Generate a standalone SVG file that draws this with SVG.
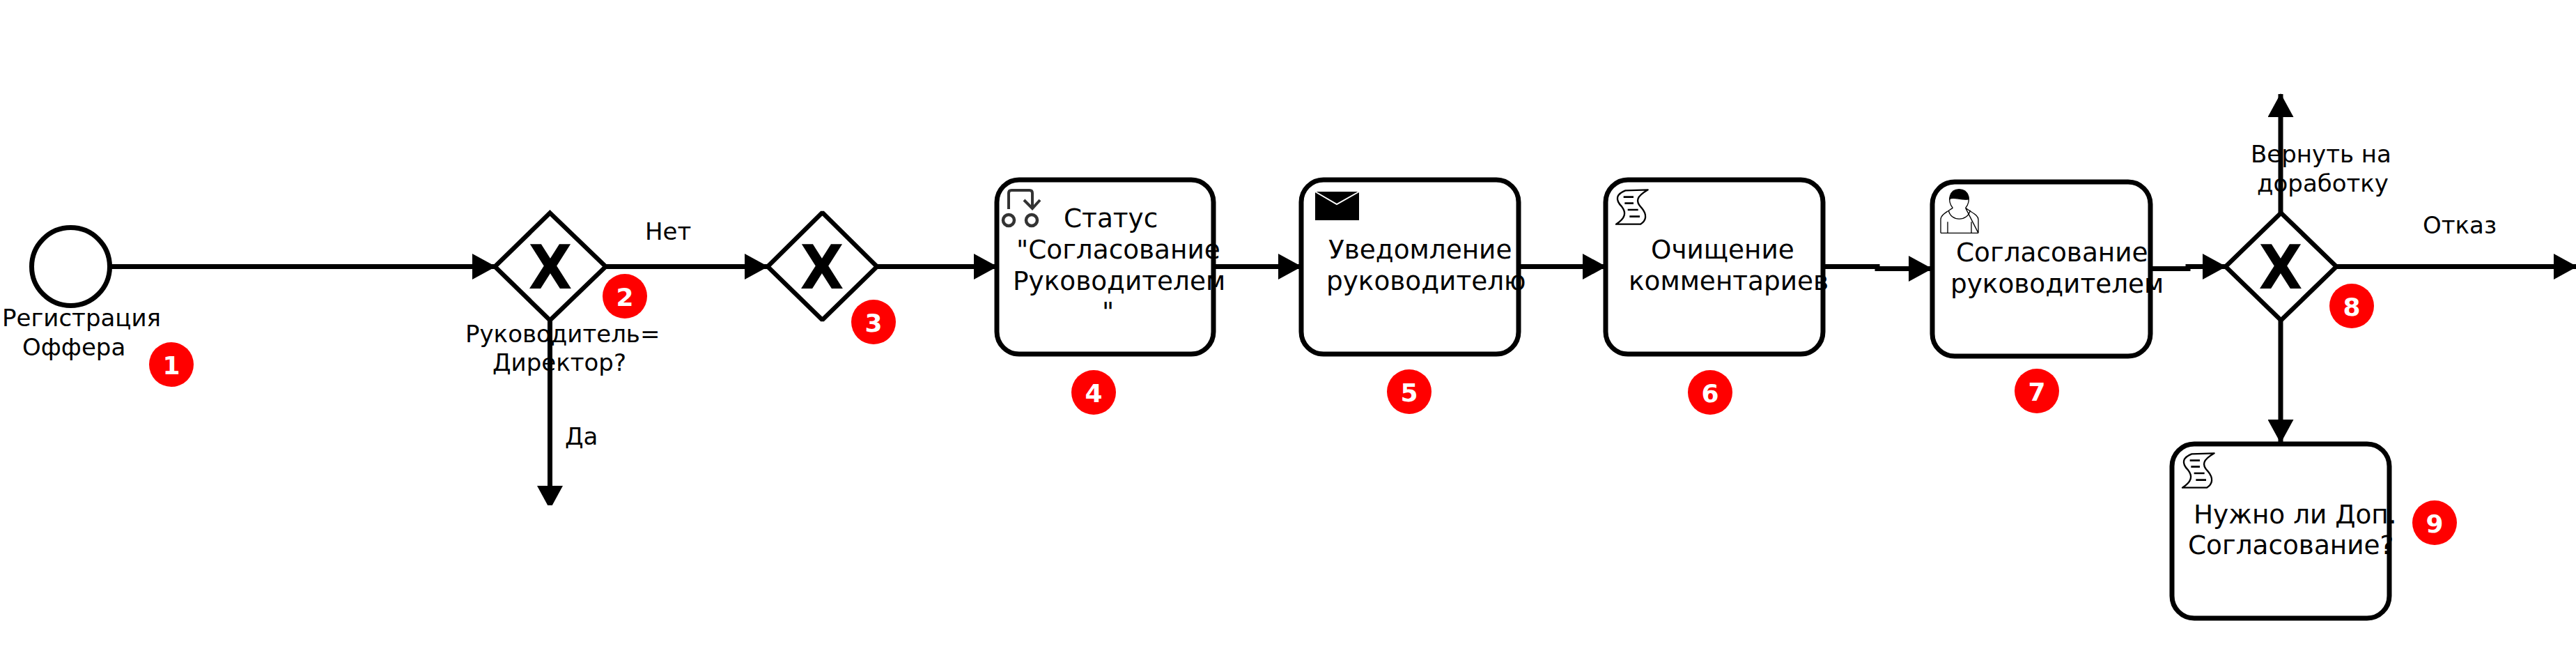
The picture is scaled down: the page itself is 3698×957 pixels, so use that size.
<svg xmlns="http://www.w3.org/2000/svg" xmlns:xlink="http://www.w3.org/1999/xlink" width="3698" height="957" viewBox="0 0 3698 957">
<style>
text{font-family:"DejaVu Sans",sans-serif;fill:#000}
.t{font-size:37.400px}
.l{font-size:34px}
.x{font-size:88px;font-weight:bold;text-anchor:middle}
.n{font-size:36px;font-weight:bold;fill:#fff;text-anchor:middle}
.task{fill:#fff;stroke:#000;stroke-width:7}
.gw{fill:#fff;stroke:#000;stroke-width:6.500}
.c{fill:none;stroke:#000;stroke-width:7;marker-end:url(#arrow)}
.b{fill:#f00}
.ic{fill:#fff;stroke:#000;stroke-width:7;stroke-linejoin:round}
</style>
<defs>
<marker id="arrow" markerUnits="userSpaceOnUse" markerWidth="34" markerHeight="37" viewBox="0 0 34 37" refX="33" refY="18.500" orient="auto"><path d="M0 0L34 18.500L0 37Z" fill="#000"/></marker>
<clipPath id="cut"><rect x="700" y="460" width="200" height="265"/></clipPath>
<g id="script"><path class="ic" d="M100 55L197 52C150 80 140 100 170 130C195 160 190 185 165 200L60 200C100 175 105 150 85 125C55 95 60 70 100 55Z" transform="scale(.3333)"/><path d="M92 83H135M97 110H135M110 138H155M118 167H162" transform="scale(.3333)" stroke="#000" stroke-width="8" fill="none"/></g>
</defs>
<rect width="3698" height="957" fill="#fff"/>
<g id="connectors">
<path class="c" d="M158 382.500H711"/>
<path class="c" d="M789.500 459V730" clip-path="url(#cut)"/>
<path class="c" d="M869 382.500H1102"/>
<path class="c" d="M1259 382.500H1431"/>
<path class="c" d="M1742 382.500H1868"/>
<path class="c" d="M2180 382.500H2305"/>
<path class="c" d="M2617 382.500H2695V385.500H2773"/>
<path class="c" d="M3087 385.500H3141V382.500H3195"/>
<path class="c" d="M3274 305V135"/>
<path class="c" d="M3354 382.500H3699"/>
<path class="c" d="M3274 460V635"/>
<path d="M3274 885V889" stroke="#000" stroke-width="6.500"/>
</g>
<g id="start"><circle cx="101.500" cy="382.500" r="56" fill="#fff" stroke="#000" stroke-width="7"/><text class="l" x="3" y="468">Регистрация</text><text class="l" x="32" y="510">Оффера</text></g>
<g id="gateway2"><path class="gw" d="M789.500 305.500L869.500 382.500L789.500 459.500L710.500 382.500Z"/><text class="x" x="790" y="414" textLength="63" lengthAdjust="spacingAndGlyphs">X</text><text class="l" x="668" y="491">Руководитель=</text><text class="l" x="707" y="532">Директор?</text></g>
<g id="label-da"><text class="l" x="811" y="638">Да</text></g>
<g id="label-net"><text class="l" x="926" y="344">Нет</text></g>
<g id="gateway3"><path class="gw" stroke-linejoin="bevel" d="M1180.500 305L1259 382.500L1180.500 459L1102 382.500Z"/><text class="x" x="1180" y="414" textLength="63" lengthAdjust="spacingAndGlyphs">X</text></g>
<g id="task4"><rect class="task" x="1431" y="258" width="311" height="250" rx="32"/>
<path d="M1448 300V277Q1448 273 1452 273H1478Q1482 273 1482 277V298M1470 287L1482 299L1493 287" fill="none" stroke="#333" stroke-width="4"/><circle cx="1448" cy="316" r="8" fill="none" stroke="#333" stroke-width="4.500"/><circle cx="1481" cy="316" r="8" fill="none" stroke="#333" stroke-width="4.500"/>
<text class="t" x="1527" y="326">Статус</text><text class="t" x="1459" y="371">"Согласование</text><text class="t" x="1454" y="416">Руководителем</text><text class="t" x="1582" y="460">"</text></g>
<g id="task5"><rect class="task" x="1868" y="258" width="312" height="250" rx="32"/>
<rect x="1888" y="275" width="63" height="41" fill="#000"/><path d="M1888 275L1919 293L1951 275" fill="none" stroke="#fff" stroke-width="2"/>
<text class="t" x="1907" y="371">Уведомление</text><text class="t" x="1904" y="416">руководителю</text></g>
<g id="task6"><rect class="task" x="2305" y="258" width="312" height="250" rx="32"/>
<use xlink:href="#script" href="#script" transform="translate(2300 255)"/>
<text class="t" x="2370" y="371">Очищение</text><text class="t" x="2338" y="416">комментариев</text></g>
<g id="task7"><rect class="task" x="2774" y="261" width="313" height="250" rx="32"/>
<g transform="translate(2770 255) scale(.3333)" fill="none" stroke="#000" stroke-width="4"><path d="M100 130C75 100 85 50 127 50C170 50 180 100 155 130" /><path d="M87 92C100 78 140 100 168 92C170 70 150 52 127 52C105 52 88 70 87 92Z" fill="#000"/><path d="M48 238V180C48 160 70 150 100 130M82 140C90 190 165 190 175 140M155 130C180 150 210 160 210 180V238ZM48 238H210M78 190V238M180 190V238"/></g>
<text class="t" x="2808" y="375">Согласование</text><text class="t" x="2800" y="420">руководителем</text></g>
<g id="gateway8"><path class="gw" d="M3274.500 305.500L3354 382.500L3274.500 459.500L3195 382.500Z"/><text class="x" x="3274" y="414" textLength="63" lengthAdjust="spacingAndGlyphs">X</text></g>
<g id="label-return"><text class="l" x="3231" y="233">Вернуть на</text><text class="l" x="3240" y="275">доработку</text></g>
<g id="label-reject"><text class="l" x="3478" y="335">Отказ</text></g>
<g id="task9"><rect class="task" x="3118" y="637" width="312" height="250" rx="32"/>
<use xlink:href="#script" href="#script" transform="translate(3113 633)"/>
<text class="t" x="3149" y="751">Нужно ли Доп.</text><text class="t" x="3141" y="795">Согласование?</text></g>
<g id="badges">
<g id="badge1"><circle class="b" cx="246" cy="523" r="32"/><text class="n" x="246" y="537">1</text></g>
<g id="badge2"><circle class="b" cx="897" cy="425" r="32"/><text class="n" x="897" y="439">2</text></g>
<g id="badge3"><circle class="b" cx="1254" cy="462" r="32"/><text class="n" x="1254" y="476">3</text></g>
<g id="badge4"><circle class="b" cx="1570" cy="563" r="32"/><text class="n" x="1570" y="577">4</text></g>
<g id="badge5"><circle class="b" cx="2023" cy="562" r="32"/><text class="n" x="2023" y="576">5</text></g>
<g id="badge6"><circle class="b" cx="2455" cy="563" r="32"/><text class="n" x="2455" y="577">6</text></g>
<g id="badge7"><circle class="b" cx="2924" cy="561" r="32"/><text class="n" x="2924" y="575">7</text></g>
<g id="badge8"><circle class="b" cx="3376" cy="439" r="32"/><text class="n" x="3376" y="453">8</text></g>
<g id="badge9"><circle class="b" cx="3495" cy="750" r="32"/><text class="n" x="3495" y="764">9</text></g>
</g>
</svg>
